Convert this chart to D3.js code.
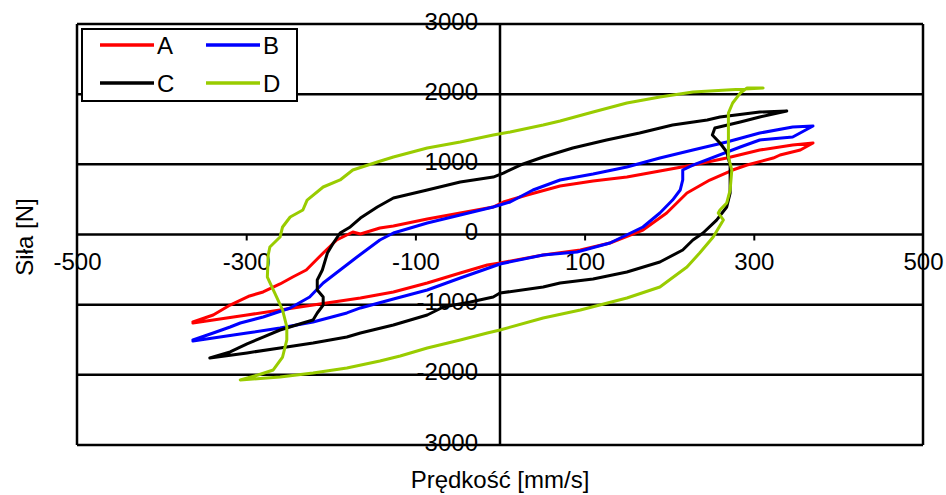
<!DOCTYPE html>
<html>
<head>
<meta charset="utf-8">
<script src="https://cdn.jsdelivr.net/npm/d3@7"></script>
<style>
  html, body { margin: 0; padding: 0; background: #fff; }
  svg text { font-family: "Liberation Sans", Arial, sans-serif; fill: #000; }
</style>
</head>
<body>
<svg id="chart" width="946" height="495"></svg>
<script>
// ---- data ----
const seriesNames = ["A", "B", "C", "D"];
const seriesColors = ["#ff0000", "#0000ff", "#000000", "#99cc00"];
const xTicks = [-500, -300, -100, 100, 300, 500];
const yTicks = [-3000, -2000, -1000, 0, 1000, 2000, 3000];
const xTitle = "Prędkość [mm/s]";
const yTitle = "Siła [N]";

// velocity [mm/s] and force [N] for each loop
const vA = [-363,-339,-319,-296,-280,-260,-245,-229,-209,-193,-174,-165,-142,-126,-86,-47,-8,4,32,71,110,150,189,228,268,307,346,370,
            355,331,323,292,275,248,221,209,197,169,130,95,51,0,-15,-47,-86,-126,-165,-181,-221,-260,-299,-339,-363];
const fA = [-1247,-1147,-1005,-876,-819,-705,-606,-506,-264,-78,36,7,93,121,221,306,392,463,563,691,762,819,905,990,1090,1204,1275,1304,
            1204,1133,1090,990,919,776,591,449,306,64,-121,-221,-292,-406,-435,-549,-691,-819,-905,-933,-1005,-1076,-1147,-1218,-1261];

const vB = [-363,-339,-319,-307,-280,-248,-225,-209,-189,-169,-142,-126,-86,-47,-8,12,39,71,110,150,189,228,268,307,346,370,
            346,307,284,228,216,216,213,204,189,169,130,91,51,0,-20,-47,-86,-126,-165,-181,-221,-260,-299,-339,-363];
const fB = [-1503,-1404,-1318,-1261,-1176,-1047,-891,-691,-506,-321,-78,21,164,278,392,463,634,777,862,962,1090,1204,1318,1446,1532,1546,
            1389,1347,1247,990,919,777,634,491,306,107,-121,-249,-292,-420,-506,-620,-791,-919,-1047,-1118,-1247,-1332,-1404,-1475,-1518];

const vC = [-343,-319,-299,-280,-260,-233,-221,-216,-209,-209,-216,-216,-210,-204,-197,-189,-177,-165,-145,-126,-86,-47,-8,4,24,51,86,126,165,204,245,260,307,339,
            307,284,254,251,260,268,272,272,272,268,256,240,228,216,189,150,110,71,51,0,-8,-35,-67,-86,-126,-165,-181,-221,-260,-299,-343];
const fC = [-1760,-1674,-1560,-1461,-1361,-1261,-1218,-1119,-1005,-891,-791,-648,-506,-264,-121,21,107,235,392,520,634,748,819,876,990,1104,1233,1347,1446,1560,1632,1674,1746,1760,
            1674,1603,1518,1418,1304,1176,990,777,591,392,206,21,-78,-221,-392,-534,-634,-691,-748,-834,-891,-962,-1033,-1147,-1290,-1404,-1461,-1546,-1617,-1688,-1760];

const vD = [-307,-260,-221,-181,-142,-118,-86,-47,-15,0,51,95,150,189,221,236,252,264,258,260,268,272,274,270,270,270,275,284,292,311,
            268,228,189,150,110,71,51,12,-8,-47,-86,-126,-145,-174,-189,-209,-228,-233,-248,-257,-260,-272,-274,-275,-264,-257,-252,-252,-257,-268,-286,-307];
const fD = [-2073,-2031,-1974,-1902,-1803,-1731,-1617,-1503,-1404,-1361,-1190,-1076,-905,-748,-463,-264,-36,207,306,349,449,634,919,1104,1446,1731,1874,2016,2088,2088,
            2059,2031,1959,1874,1746,1617,1560,1461,1418,1318,1233,1104,1033,919,777,677,491,349,249,107,-36,-178,-292,-606,-891,-1076,-1318,-1503,-1746,-1931,-2002,-2073];

const seriesV = [vA, vB, vC, vD];
const seriesF = [fA, fB, fC, fD];

// ---- layout ----
const svg = d3.select("#chart");
const L = 77, R = 923, T = 24, B = 445;
const x = d3.scaleLinear().domain([-500, 500]).range([L, R]);
const y = d3.scaleLinear().domain([-3000, 3000]).range([B, T]);
const FS = 24;
const FF = '"Liberation Sans", Arial, sans-serif';

// y-axis labels (drawn first so grid lines pass over them, hiding the minus sign as in the original)
const yAx = svg.append("g").attr("transform", `translate(${x(0)},0)`)
  .call(d3.axisLeft(y).tickValues(yTicks).tickSize(0).tickFormat(d => String(d)));
yAx.select(".domain").remove();
yAx.selectAll("text").attr("x", -22).attr("dy", null).attr("y", 5)
  .style("font-size", FS + "px").style("font-family", FF).attr("fill", "#000");

// x-axis labels and ticks
const xAx = svg.append("g").attr("transform", `translate(0,${y(0)})`)
  .call(d3.axisBottom(x).tickValues(xTicks).tickSize(6).tickFormat(d => String(d)));
xAx.select(".domain").remove();
xAx.selectAll("line").attr("stroke", "#000").attr("stroke-width", 2)
  .attr("display", d => (Math.abs(d) === 500 ? "none" : null));
xAx.selectAll("text").attr("dy", null).attr("y", 35.5)
  .style("font-size", FS + "px").style("font-family", FF).attr("fill", "#000");

// grid lines
const grid = svg.append("g").attr("stroke", "#000").attr("stroke-width", 2.5);
grid.selectAll("line.h").data(yTicks).join("line").attr("class", "h")
  .attr("x1", L).attr("x2", R).attr("y1", d => y(d)).attr("y2", d => y(d));
grid.selectAll("line.v").data([-500, 0, 500]).join("line").attr("class", "v")
  .attr("x1", d => x(d)).attr("x2", d => x(d)).attr("y1", T).attr("y2", B);

// curves
const line = d3.line().x(d => x(d[0])).y(d => y(d[1]));
seriesNames.forEach((n, i) => {
  const pts = seriesV[i].map((v, j) => [v, seriesF[i][j]]);
  svg.append("path").datum(pts).attr("d", line)
    .attr("fill", "none").attr("stroke", seriesColors[i]).attr("stroke-width", 3)
    .attr("stroke-linejoin", "round").attr("stroke-linecap", "round");
});

// titles
svg.append("text").attr("x", 500).attr("y", 488).attr("text-anchor", "middle")
  .style("font-size", FS + "px").text(xTitle);
svg.append("text").attr("transform", "translate(33,237) rotate(-90)").attr("text-anchor", "middle")
  .style("font-size", FS + "px").text(yTitle);

// legend
const lg = svg.append("g");
lg.append("rect").attr("x", 82).attr("y", 29).attr("width", 215).attr("height", 72)
  .attr("fill", "#fff").attr("stroke", "#000").attr("stroke-width", 2);
seriesNames.forEach((n, i) => {
  const cx = 100 + (i % 2) * 106, cy = 45 + Math.floor(i / 2) * 38;
  lg.append("line").attr("x1", cx).attr("x2", cx + 54).attr("y1", cy).attr("y2", cy)
    .attr("stroke", seriesColors[i]).attr("stroke-width", 3.5);
  lg.append("text").attr("x", cx + 57).attr("y", cy + 9).style("font-size", FS + "px").text(n);
});
</script>
</body>
</html>
